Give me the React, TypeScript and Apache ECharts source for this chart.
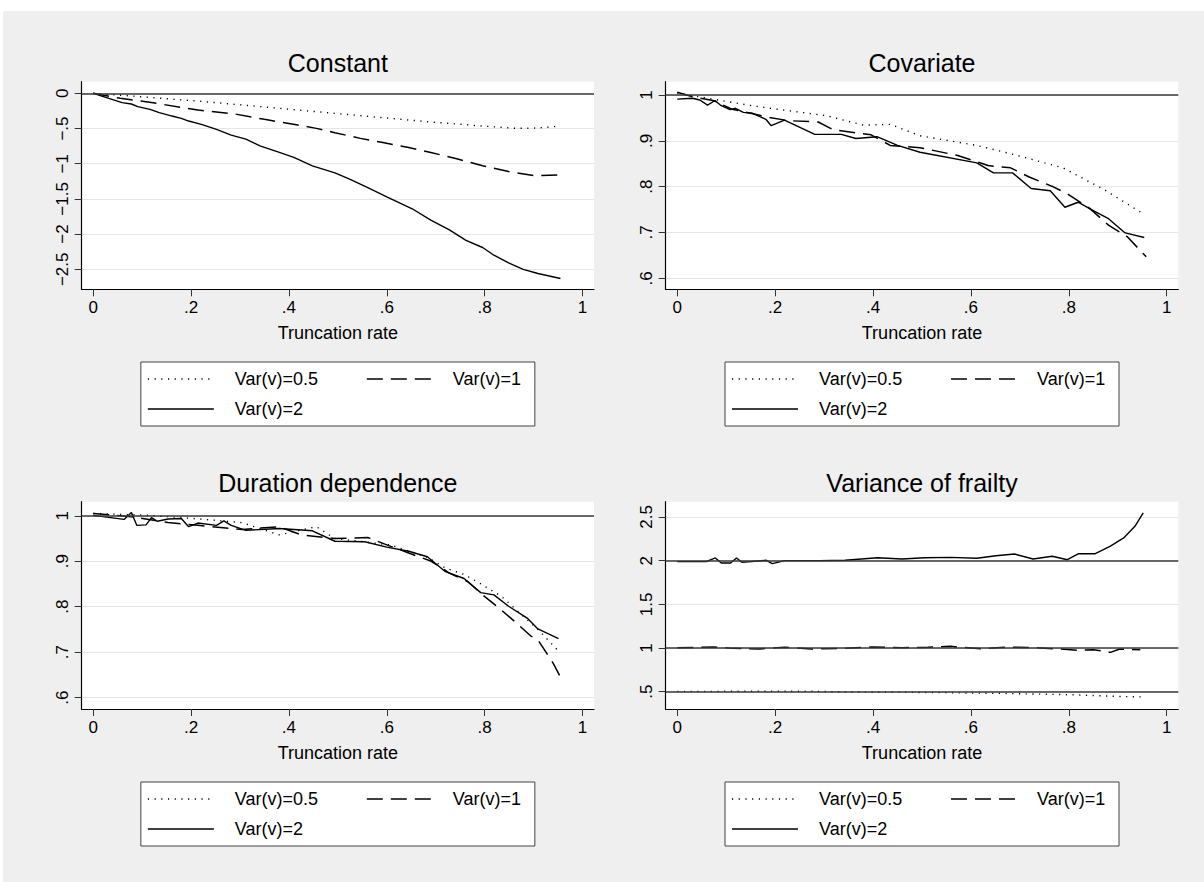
import React, { useEffect, useRef } from "react";
import * as echarts from "echarts";

// ---------- data ----------
const panelTitles = ["Constant", "Covariate", "Duration dependence", "Variance of frailty"];
const seriesNames = ["Var(v)=0.5", "Var(v)=1", "Var(v)=2"];
const xAxisTitle = "Truncation rate";
const xTicks = [0, 0.2, 0.4, 0.6, 0.8, 1];

const yTicksConstant = [-2.5, -2, -1.5, -1, -0.5, 0];
const yTicksCovariate = [0.6, 0.7, 0.8, 0.9, 1];
const yTicksDuration = [0.6, 0.7, 0.8, 0.9, 1];
const yTicksFrailty = [0.5, 1, 1.5, 2, 2.5];

const refConstant = [0];
const refCovariate = [1];
const refDuration = [1];
const refFrailty = [0.5, 1, 2];

const xRange = [-0.0236, 1.0236];
const yRangeConstant = [-2.784, 0.165];
const yRangeCovariate = [0.576, 1.029];
const yRangeDuration = [0.575, 1.031];
const yRangeFrailty = [0.302, 2.675];

// Constant
const constV05 = [[0, 0], [0.078, -0.038], [0.229, -0.119], [0.38, -0.213], [0.531, -0.308], [0.683, -0.403], [0.796, -0.465], [0.864, -0.498], [0.909, -0.493], [0.955, -0.465]];
const constV1 = [[0, 0], [0.055, -0.071], [0.108, -0.119], [0.214, -0.237], [0.29, -0.294], [0.35, -0.37], [0.418, -0.45], [0.456, -0.498], [0.494, -0.56], [0.546, -0.64], [0.592, -0.7], [0.645, -0.77], [0.69, -0.84], [0.743, -0.93], [0.796, -1.03], [0.849, -1.11], [0.902, -1.17], [0.955, -1.16]];
const constV2 = [[0, 0], [0.059, -0.133], [0.078, -0.152], [0.091, -0.19], [0.116, -0.228], [0.135, -0.275], [0.161, -0.323], [0.18, -0.356], [0.195, -0.394], [0.221, -0.441], [0.252, -0.512], [0.282, -0.593], [0.312, -0.65], [0.342, -0.75], [0.373, -0.82], [0.41, -0.91], [0.448, -1.03], [0.494, -1.13], [0.524, -1.22], [0.558, -1.33], [0.6, -1.47], [0.652, -1.64], [0.69, -1.8], [0.728, -1.94], [0.762, -2.09], [0.796, -2.19], [0.819, -2.3], [0.849, -2.41], [0.879, -2.5], [0.909, -2.56], [0.955, -2.63]];

// Covariate
const covV05 = [[0, 1.004], [0.073, 0.991], [0.15, 0.977], [0.204, 0.969], [0.304, 0.955], [0.381, 0.934], [0.435, 0.936], [0.496, 0.911], [0.612, 0.89], [0.688, 0.87], [0.788, 0.841], [0.827, 0.819], [0.873, 0.793], [0.95, 0.742]];
const covV1 = [[0, 1.006], [0.035, 0.995], [0.073, 0.988], [0.112, 0.969], [0.15, 0.96], [0.188, 0.951], [0.227, 0.944], [0.288, 0.941], [0.319, 0.924], [0.396, 0.913], [0.435, 0.89], [0.496, 0.885], [0.573, 0.868], [0.635, 0.846], [0.681, 0.841], [0.719, 0.821], [0.765, 0.801], [0.796, 0.785], [0.842, 0.753], [0.881, 0.716], [0.919, 0.691], [0.958, 0.647]];
const covV2 = [[0, 0.991], [0.031, 0.993], [0.046, 0.989], [0.062, 0.978], [0.077, 0.988], [0.088, 0.978], [0.108, 0.968], [0.119, 0.971], [0.135, 0.962], [0.154, 0.96], [0.181, 0.947], [0.192, 0.933], [0.219, 0.945], [0.281, 0.914], [0.335, 0.914], [0.365, 0.905], [0.408, 0.909], [0.45, 0.89], [0.496, 0.875], [0.612, 0.852], [0.646, 0.83], [0.685, 0.83], [0.723, 0.796], [0.762, 0.791], [0.792, 0.755], [0.819, 0.766], [0.846, 0.75], [0.881, 0.73], [0.915, 0.699], [0.954, 0.689]];

// Duration dependence
const durV05 = [[0, 1.005], [0.116, 1.001], [0.229, 0.992], [0.304, 0.985], [0.38, 0.958], [0.456, 0.976], [0.494, 0.95], [0.607, 0.936], [0.683, 0.909], [0.72, 0.885], [0.758, 0.871], [0.788, 0.853], [0.834, 0.823], [0.864, 0.794], [0.909, 0.75], [0.955, 0.698]];
const durV1 = [[0, 1.005], [0.078, 0.998], [0.153, 0.985], [0.214, 0.979], [0.304, 0.97], [0.38, 0.976], [0.425, 0.958], [0.494, 0.95], [0.562, 0.952], [0.6, 0.936], [0.645, 0.918], [0.691, 0.9], [0.728, 0.874], [0.766, 0.855], [0.796, 0.826], [0.834, 0.793], [0.864, 0.765], [0.894, 0.736], [0.909, 0.727], [0.94, 0.676], [0.958, 0.639]];
const durV2 = [[0, 1.001], [0.063, 0.992], [0.078, 1.007], [0.089, 0.979], [0.108, 0.98], [0.119, 0.996], [0.131, 0.988], [0.153, 0.993], [0.18, 0.994], [0.195, 0.976], [0.214, 0.984], [0.252, 0.979], [0.267, 0.989], [0.282, 0.979], [0.312, 0.968], [0.38, 0.972], [0.448, 0.967], [0.494, 0.944], [0.555, 0.943], [0.6, 0.931], [0.645, 0.922], [0.683, 0.91], [0.72, 0.877], [0.758, 0.862], [0.792, 0.831], [0.819, 0.826], [0.849, 0.801], [0.887, 0.775], [0.909, 0.751], [0.951, 0.73]];

// Variance of frailty
const frailV05 = [[0, 0.504], [0.274, 0.505], [0.382, 0.495], [0.535, 0.49], [0.689, 0.478], [0.804, 0.465], [0.904, 0.445], [0.958, 0.44]];
const frailV1 = [[0, 1.004], [0.074, 1.011], [0.113, 0.996], [0.167, 0.989], [0.22, 1.008], [0.274, 0.989], [0.343, 0.996], [0.397, 1.011], [0.459, 1.004], [0.512, 1.008], [0.558, 1.019], [0.62, 0.992], [0.674, 1.011], [0.728, 1.004], [0.781, 0.989], [0.82, 0.973], [0.85, 0.981], [0.885, 0.95], [0.904, 0.989], [0.946, 0.981]];
const frailV2 = [[0, 1.989], [0.059, 1.989], [0.078, 2.031], [0.09, 1.973], [0.109, 1.973], [0.121, 2.031], [0.132, 1.981], [0.182, 2.004], [0.194, 1.966], [0.22, 2.0], [0.29, 2.0], [0.343, 2.004], [0.409, 2.034], [0.459, 2.019], [0.505, 2.034], [0.558, 2.038], [0.612, 2.027], [0.651, 2.057], [0.689, 2.076], [0.727, 2.019], [0.766, 2.05], [0.797, 2.011], [0.82, 2.08], [0.854, 2.08], [0.884, 2.164], [0.912, 2.26], [0.935, 2.393], [0.952, 2.546]];

const panels = [
  { title: panelTitles[0], yTicks: yTicksConstant, yRange: yRangeConstant, refs: refConstant, data: [constV05, constV1, constV2] },
  { title: panelTitles[1], yTicks: yTicksCovariate, yRange: yRangeCovariate, refs: refCovariate, data: [covV05, covV1, covV2] },
  { title: panelTitles[2], yTicks: yTicksDuration, yRange: yRangeDuration, refs: refDuration, data: [durV05, durV1, durV2] },
  { title: panelTitles[3], yTicks: yTicksFrailty, yRange: yRangeFrailty, refs: refFrailty, data: [frailV05, frailV1, frailV2] },
];

// ---------- layout / style ----------
const OX = 3;
const OY = 11;
const FONT = '"Liberation Sans", Arial, Helvetica, sans-serif';
const geom = [
  { gx: 81.7, gy: 81.7, gw: 512.3, gh: 207.6 },
  { gx: 665.7, gy: 81.7, gw: 512.6, gh: 207.6 },
  { gx: 81.7, gy: 501.7, gw: 512.3, gh: 207.3 },
  { gx: 665.7, gy: 501.7, gw: 512.6, gh: 207.3 },
];
const lineStyles = [
  { type: [1.2, 5.5], width: 1.4, color: "#000", cap: "butt" },
  { type: [16, 8], width: 1.5, color: "#000" },
  { type: "solid", width: 1.4, color: "#000" },
];

function fmt(v: number): string {
  const r = Math.round(v * 1000) / 1000;
  if (r === 0) return "0";
  let s = String(Math.abs(r));
  if (s.startsWith("0.")) s = s.slice(1);
  return (r < 0 ? "\u2212" : "") + s;
}

function buildOption() {
  const grid: any[] = [];
  const xAxis: any[] = [];
  const yAxis: any[] = [];
  const series: any[] = [];
  const graphic: any[] = [];

  panels.forEach((p, i) => {
    const g = geom[i];
    grid.push({
      left: g.gx - OX,
      top: g.gy - OY,
      width: g.gw,
      height: g.gh,
      show: true,
      backgroundColor: "#ffffff",
      borderWidth: 0,
      containLabel: false,
    });
    xAxis.push({
      type: "value",
      gridIndex: i,
      min: xRange[0],
      max: xRange[1],
      name: xAxisTitle,
      nameLocation: "middle",
      nameGap: 35,
      nameTextStyle: { fontFamily: FONT, fontSize: 18, color: "#000", verticalAlign: "top" },
      axisLine: { show: true, onZero: false, lineStyle: { color: "#000", width: 1.2 } },
      axisTick: { show: true, length: 7, customValues: xTicks, lineStyle: { color: "#333", width: 1 } },
      axisLabel: { customValues: xTicks, formatter: (v: number) => fmt(v), fontFamily: FONT, fontSize: 17, color: "#000", margin: 10 },
      splitLine: { show: false },
    });
    yAxis.push({
      type: "value",
      gridIndex: i,
      min: p.yRange[0],
      max: p.yRange[1],
      axisLine: { show: true, onZero: false, lineStyle: { color: "#000", width: 1.2 } },
      axisTick: { show: true, length: 7, customValues: p.yTicks, lineStyle: { color: "#333", width: 1 } },
      axisLabel: { customValues: p.yTicks, rotate: 90, formatter: (v: number) => fmt(v), fontFamily: FONT, fontSize: 17, color: "#000", margin: 11 },
      splitLine: { show: true, lineStyle: { color: "#e6e6e6", width: 1.2 } },
    });
    p.data.forEach((d, k) => {
      const s: any = {
        type: "line",
        name: seriesNames[k],
        xAxisIndex: i,
        yAxisIndex: i,
        data: d,
        showSymbol: false,
        symbol: "none",
        lineStyle: lineStyles[k],
        silent: true,
        z: 3,
      };
      if (k === 2) {
        s.markLine = {
          silent: true,
          symbol: "none",
          label: { show: false },
          lineStyle: { type: "solid", color: "#3a3a3a", width: 1.6 },
          data: p.refs.map((v) => ({ yAxis: v })),
        };
      }
      series.push(s);
    });

    // title
    graphic.push({
      type: "text",
      x: g.gx + g.gw / 2 - OX,
      y: g.gy - 19 - OY,
      style: { text: p.title, font: `25px ${FONT}`, fill: "#000", align: "center", verticalAlign: "middle" },
    });

    // legend
    const cx = g.gx + g.gw / 2;
    const bl = cx - 197 - OX;
    const bt = g.gy + 280.3 - OY;
    const r1 = bt + 17;
    const r2 = bt + 47;
    graphic.push({
      type: "rect",
      shape: { x: bl, y: bt, width: 394, height: 64 },
      style: { fill: "#fff", stroke: "#444", lineWidth: 1 },
    });
    const samples = [
      { x: bl + 7, y: r1, tx: bl + 94 },
      { x: bl + 226, y: r1, tx: bl + 312 },
      { x: bl + 7, y: r2, tx: bl + 94 },
    ];
    samples.forEach((sm, k) => {
      const ls = lineStyles[k];
      graphic.push({
        type: "line",
        shape: { x1: sm.x, y1: sm.y, x2: sm.x + 66, y2: sm.y },
        style: { stroke: "#000", lineWidth: ls.width, lineDash: Array.isArray(ls.type) ? ls.type : null },
      });
      graphic.push({
        type: "text",
        x: sm.tx,
        y: sm.y,
        style: { text: seriesNames[k], font: `18px ${FONT}`, fill: "#000", align: "left", verticalAlign: "middle" },
      });
    });
  });

  return {
    animation: false,
    backgroundColor: "#efefef",
    grid,
    xAxis,
    yAxis,
    series,
    graphic: { elements: graphic },
  };
}

export default function App() {
  const ref = useRef<HTMLDivElement>(null);
  useEffect(() => {
    if (!ref.current) return;
    const chart = echarts.init(ref.current, null, { renderer: "svg" });
    chart.setOption(buildOption() as any);
    return () => chart.dispose();
  }, []);
  return (
    <div style={{ position: "absolute", left: 0, top: 0, width: 1204, height: 882, background: "#fff" }}>
      <div ref={ref} style={{ position: "absolute", left: OX, top: OY, width: 1204 - OX, height: 882 - OY }} />
    </div>
  );
}
